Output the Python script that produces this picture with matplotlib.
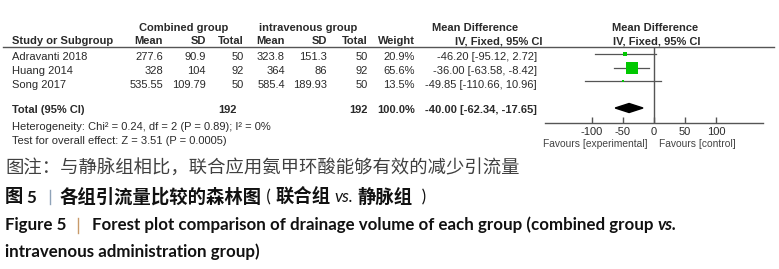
import matplotlib
matplotlib.use("Agg")
import matplotlib.pyplot as plt
from matplotlib.patches import Polygon

# ---- data ----
studies = ["Adravanti 2018", "Huang 2014", "Song 2017"]
comb_mean = ["277.6", "328", "535.55"]
comb_sd = ["90.9", "104", "109.79"]
comb_n = [50, 92, 50]
iv_mean = ["323.8", "364", "585.4"]
iv_sd = ["151.3", "86", "189.93"]
iv_n = [50, 92, 50]
weights = [20.9, 65.6, 13.5]
md = [-46.20, -36.00, -49.85]
ci_lo = [-95.12, -63.58, -110.66]
ci_hi = [2.72, -8.42, 10.96]
total_md, total_lo, total_hi = -40.00, -62.34, -17.65
total_comb, total_iv = 192, 192
ticks = [-100, -50, 0, 50, 100]

TABLE_FONT = ["Liberation Sans", "DejaVu Sans"]
CJK_FONT = ["Noto Sans CJK SC", "DejaVu Sans"]
CAP_FONT = ["Lato", "Liberation Sans", "DejaVu Sans"]
TXT = "#2a2a2a"
GREEN = "#00c800"
LINE = "#555555"

W, H = 779, 269
fig = plt.figure(figsize=(W / 100, H / 100), dpi=100)
fig.patch.set_facecolor("white")

# overlay axes in pixel units for all the table / caption text
ax = fig.add_axes([0, 0, 1, 1])
ax.set_xlim(0, W)
ax.set_ylim(H, 0)
ax.axis("off")
renderer = fig.canvas.get_renderer()

fs = 8.0
kw = dict(fontsize=fs, family=TABLE_FONT, color=TXT, va="center")
kb = dict(kw, fontweight="bold")

# group headers
ax.text(184, 28, "Combined group", ha="center", **kb)
ax.text(308, 28, "intravenous group", ha="center", **kb)
ax.text(475, 28, "Mean Difference", ha="center", **kb)
ax.text(655, 28, "Mean Difference", ha="center", **kb)

# column headers
hy = 41
ax.text(12, hy, "Study or Subgroup", ha="left", **kb)
head_right = [163, 206, 244, 285, 327, 368, 415, 543]
heads = ["Mean", "SD", "Total", "Mean", "SD", "Total", "Weight", "IV, Fixed, 95% CI"]
for xr, h in zip(head_right, heads):
    ax.text(xr, hy, h, ha="right", **kb)
ax.text(657, hy, "IV, Fixed, 95% CI", ha="center", **kb)
ax.plot([3, 774], [46.5, 46.5], color=LINE, lw=1.0)

# study rows
col_right = [163, 206, 244, 285, 327, 368, 415, 537]
row_y = [57, 71, 85]
for i, y in enumerate(row_y):
    ax.text(12, y, studies[i], ha="left", **kw)
    vals = [comb_mean[i], comb_sd[i], comb_n[i], iv_mean[i], iv_sd[i], iv_n[i],
            f"{weights[i]:.1f}%", f"{md[i]:.2f} [{ci_lo[i]:.2f}, {ci_hi[i]:.2f}]"]
    for xr, v in zip(col_right, vals):
        ax.text(xr, y, str(v), ha="right", **kw)

# total row
ty = 110
ax.text(12, ty, "Total (95% CI)", ha="left", **kb)
ax.text(237, ty, str(total_comb), ha="right", **kb)
ax.text(368, ty, str(total_iv), ha="right", **kb)
ax.text(415, ty, f"{sum(weights):.1f}%", ha="right", **kb)
ax.text(537, ty, f"{total_md:.2f} [{total_lo:.2f}, {total_hi:.2f}]", ha="right", **kb)
ax.text(12, 127, "Heterogeneity: Chi\u00b2 = 0.24, df = 2 (P = 0.89); I\u00b2 = 0%", ha="left", **kw)
ax.text(12, 141, "Test for overall effect: Z = 3.51 (P = 0.0005)", ha="left", **kw)

# ---- forest panel ----
x0, x1, ytop, ybot = 545, 763, 46.5, 123
fax = fig.add_axes([x0 / W, 1 - ybot / H, (x1 - x0) / W, (ybot - ytop) / H])
fax.set_xlim(-175, 175)
fax.set_ylim(ybot, ytop)
fax.patch.set_alpha(0)
for s in ["top", "left", "right"]:
    fax.spines[s].set_visible(False)
fax.spines["bottom"].set_color(LINE)
fax.spines["bottom"].set_linewidth(1.0)
fax.set_yticks([])
fax.set_xticks(ticks)
fax.set_xticklabels([str(t) for t in ticks], fontsize=fs, family=TABLE_FONT, color=TXT)
fax.tick_params(axis="x", direction="in", length=4, width=1, color=LINE, pad=3)
fax.axvline(0, color=LINE, lw=1.0)

mark_y = [53.5, 68, 81]
for i, y in enumerate(mark_y):
    fax.plot([ci_lo[i], ci_hi[i]], [y, y], color=LINE, lw=0.9)
    fax.plot(md[i], y, marker="s", color=GREEN, ms=weights[i] * 0.125, mew=0)

dy = 108
fax.add_patch(Polygon([(total_lo, dy), (total_md, dy - 4.5), (total_hi, dy), (total_md, dy + 4.5)],
                      closed=True, color="black"))

ax.text(648, 144, "Favours [experimental]", ha="right", fontsize=7.4, family=TABLE_FONT, color="#444444", va="center")
ax.text(659, 144, "Favours [control]", ha="left", fontsize=7.4, family=TABLE_FONT, color="#444444", va="center")

# ---- caption ----
def draw_runs(x, y, runs):
    for text, style in runs:
        t = ax.text(x, y, text, va="center", ha="left", **style)
        x += t.get_window_extent(renderer).width
    return x


def fit_size(text, style, width):
    # font size that makes `text` span `width` pixels
    t = ax.text(0, 0, text, **dict(style, fontsize=10))
    w = t.get_window_extent(renderer).width
    t.remove()
    return 10 * width / w


ax.text(5, 168, "图注：与静脉组相比，联合应用氨甲环酸能够有效的减少引流量",
        fontsize=13.2, family=CJK_FONT, color="#404040", va="center")

zh = dict(fontsize=13.2, family=CJK_FONT, color="#111111", fontweight="bold")
en_b = dict(family=CAP_FONT, color="#111111", fontweight="bold")
en_b["fontsize"] = fit_size("Forest plot comparison of drainage volume of each group (combined group ", en_b, 566)
en_i = dict(en_b, style="italic")

ax.text(5, 197, "图", va="center", **zh)
ax.text(26, 198, "5", va="center", **en_b)
ax.plot([50, 50], [190, 204], color="#8fa3b8", lw=1.0)
draw_runs(60, 197, [("各组引流量比较的森林图", zh), (" ( ", dict(en_b, fontweight="normal")),
                    ("联合组", zh), (" ", en_b),
                    ("vs.", dict(en_i, fontweight="normal")), (" ", en_b),
                    ("静脉组", zh), ("  )", dict(en_b, fontweight="normal"))])

ax.text(5, 225, "Figure 5", va="center", **en_b)
ax.plot([78, 78], [218, 233], color="#c89a6a", lw=1.0)
draw_runs(92, 225, [("Forest plot comparison of drainage volume of each group (combined group ", en_b),
                    ("vs.", en_i)])
ax.text(5, 252, "intravenous administration group)", va="center", **en_b)

fig.savefig("out.png", dpi=100)
